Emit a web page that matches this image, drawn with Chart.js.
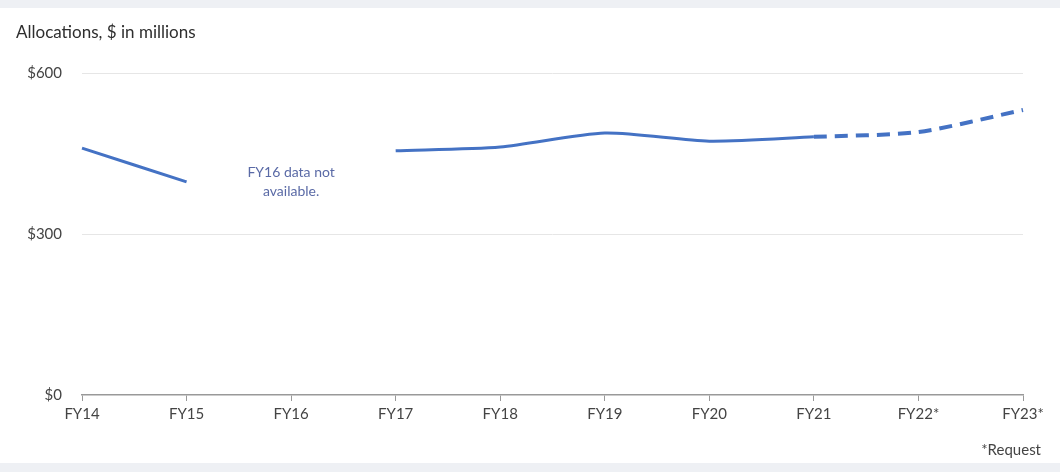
<!DOCTYPE html>
<html>
<head>
<meta charset="utf-8">
<script src="https://cdn.jsdelivr.net/npm/chart.js@4"></script>
<style>
  html, body { margin: 0; padding: 0; background: #eef0f4; }
  #wrap { width: 1060px; height: 472px; position: relative; }
  canvas { display: block; }
</style>
</head>
<body>
<div id="wrap"><canvas id="c" width="1060" height="472"></canvas></div>
<script>
const categories = ["FY14","FY15","FY16","FY17","FY18","FY19","FY20","FY21","FY22*","FY23*"];
const allocations = [460, 397, null, 455, 462, 488, 473, 481, 490, 531];
const requestStartIndex = 7; // dashed from FY21 onward (FY22*, FY23* are requests)
const yTicks = [0, 300, 600];
const yTickLabels = ["$0", "$300", "$600"];
const title = "Allocations, $ in millions";
const gapNoteLines = ["FY16 data not", "available."];
const gapNoteIndex = 2;
const gapNoteValue = 415;
const footnote = "*Request";

const FONT = "Lato, 'Open Sans', sans-serif";

const decor = {
  id: 'decor',
  beforeDraw(chart) {
    const ctx = chart.ctx;
    ctx.save();
    ctx.fillStyle = '#ffffff';
    ctx.fillRect(0, 8, chart.width, 455);
    ctx.restore();
  },
  afterDraw(chart) {
    const ctx = chart.ctx;
    const xs = chart.scales.x, ys = chart.scales.y;
    ctx.save();
    ctx.fillStyle = '#2e2e2e';
    ctx.font = '17px ' + FONT;
    ctx.textAlign = 'left';
    ctx.textBaseline = 'middle';
    ctx.fillText(title, 16, 33);

    ctx.fillStyle = '#5a6aa6';
    ctx.font = '14px ' + FONT;
    ctx.textAlign = 'center';
    const nx = xs.getPixelForValue(gapNoteIndex);
    const ny = ys.getPixelForValue(gapNoteValue);
    gapNoteLines.forEach((l, i) => ctx.fillText(l, nx, ny + i * 19));

    ctx.fillStyle = '#444444';
    ctx.font = '15px ' + FONT;
    ctx.textAlign = 'right';
    ctx.fillText(footnote, 1041, 450);
    ctx.restore();
  }
};

new Chart(document.getElementById('c'), {
  type: 'line',
  data: {
    labels: categories,
    datasets: [{
      data: allocations,
      borderColor: '#4472c4',
      borderWidth: 3,
      pointRadius: 0,
      pointHoverRadius: 0,
      tension: 0.25,
      spanGaps: false,
      fill: false,
      segment: {
        borderDash: c => c.p0DataIndex >= requestStartIndex ? [13, 8] : undefined,
        borderWidth: c => c.p0DataIndex >= requestStartIndex ? 4 : 3
      }
    }]
  },
  options: {
    responsive: false,
    animation: false,
    layout: { padding: { left: 0, right: 37, top: 73, bottom: 0 } },
    plugins: { legend: { display: false }, tooltip: { enabled: false } },
    scales: {
      x: {
        offset: false,
        grid: { display: true, drawOnChartArea: false, drawTicks: true, tickLength: 6, color: '#999999', lineWidth: 1 },
        border: { display: true, color: '#999999', width: 1.5 },
        ticks: { color: '#444444', font: { family: FONT, size: 15 }, padding: 4, maxRotation: 0, autoSkip: false },
        afterFit: s => { s.height = 77; }
      },
      y: {
        min: 0, max: 600,
        afterBuildTicks: s => { s.ticks = yTicks.map(v => ({ value: v })); },
        grid: { color: c => c.tick && c.tick.value === 0 ? 'rgba(0,0,0,0)' : '#e6e6e6', drawTicks: false, lineWidth: 1 },
        border: { display: false },
        ticks: {
          color: '#444444', font: { family: FONT, size: 15 }, padding: 20,
          callback: (v) => { const i = yTicks.indexOf(v); return i >= 0 ? yTickLabels[i] : ''; }
        },
        afterFit: s => { s.width = 82; }
      }
    }
  },
  plugins: [decor]
});
</script>
</body>
</html>
